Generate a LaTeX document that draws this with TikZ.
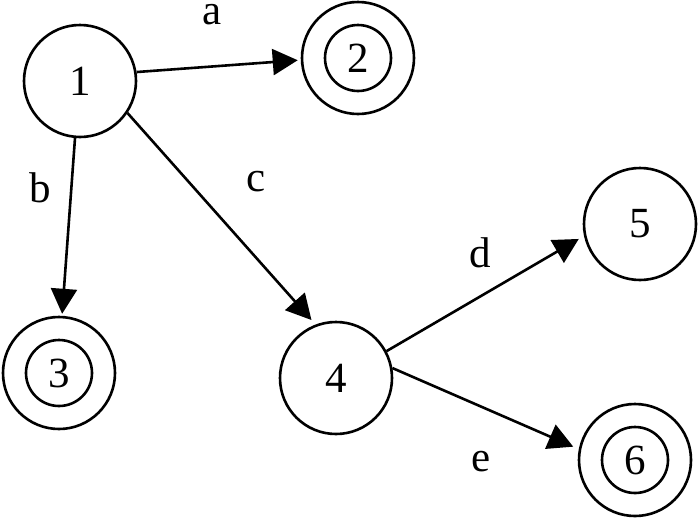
\documentclass[tikz,border=0pt]{standalone}
\usepackage{fontspec}
\setmainfont{Liberation Serif}
\usetikzlibrary{arrows.meta}
\begin{document}
\begin{tikzpicture}[x=1pt,y=-1pt,
  state/.style={circle,draw,line width=2.6pt,minimum size=112pt,inner sep=0pt,font=\fontsize{43}{43}\selectfont},
  inner/.style={circle,draw,line width=2.6pt,minimum size=66pt,inner sep=0pt,font=\fontsize{43}{43}\selectfont},
  lbl/.style={inner sep=0pt,font=\fontsize{43}{43}\selectfont},
  edge/.style={line width=2.6pt,-{Triangle[length=25pt,width=26pt]}}]
\useasboundingbox (0,0) rectangle (700,517);
\node[state] (n1) at (80,81) {1};
\node[state] (n2) at (358,58) {};
\node[inner] (n2i) at (358,58) {2};
\node[state] (n3) at (59,373) {};
\node[inner] (n3i) at (59,373) {3};
\node[state] (n4) at (336,378) {4};
\node[state] (n5) at (640,224) {5};
\node[state] (n6) at (635,460) {};
\node[inner] (n6i) at (635,460) {6};
\draw[edge,shorten >=3pt] (n1.9) -- (n2.182);
\draw[edge,shorten >=2pt] (n1.265) -- (n3.87);
\draw[edge,shorten >=6pt] (n1.-34) -- (n4.111);
\draw[edge,shorten >=6pt] (n4.28) -- (n5.192);
\draw[edge,shorten >=6pt] (n4.10) -- (n6.169);
\node[lbl] (la) at (212,15) {a};
\node[lbl] (lb) at (40,188) {b};
\node[lbl] (lc) at (256,182) {c};
\node[lbl] (ld) at (480,253) {d};
\node[lbl] (le) at (481,462) {e};
\end{tikzpicture}
\end{document}
